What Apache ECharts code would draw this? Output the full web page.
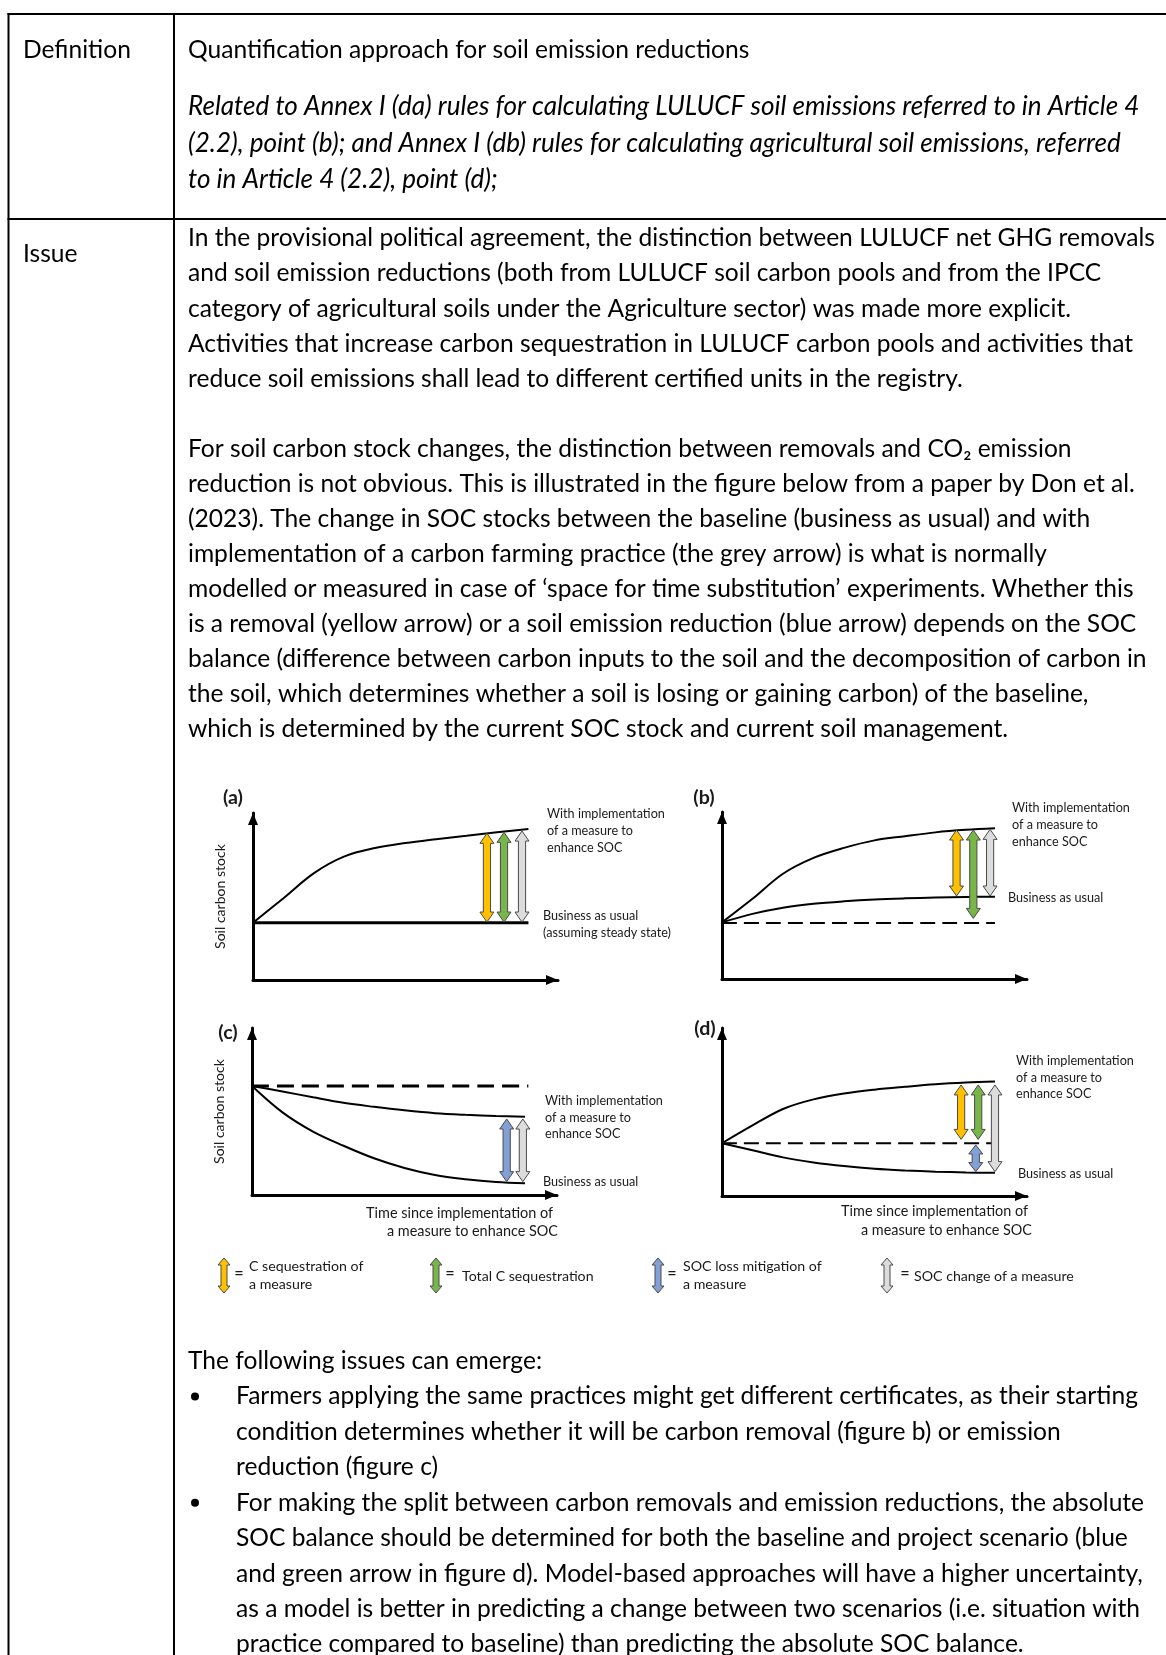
<!DOCTYPE html>
<html><head><meta charset="utf-8">
<script src="https://cdn.jsdelivr.net/npm/echarts@6/dist/echarts.min.js"></script>
<style>html,body{margin:0;padding:0;background:#fff}#c{width:1166px;height:1655px}</style>
</head><body><div id="c"></div>
<script>
// ---------------- DATA ----------------
// Curves: [time, soil carbon stock] (arbitrary units)
const CURVE_A_MEASURE = [[0,3.43],[1,4.9],[2,6.4],[3,7.4],[4,7.9],[5,8.2],[6,8.43],[7,8.64],[8,8.85],[9.03,9.04]];
const CURVE_A_BAU     = [[0,3.43],[9.03,3.43]];
const CURVE_B_MEASURE = [[0,3.39],[1,4.8],[2,6.3],[3,7.25],[4,7.85],[5,8.3],[6,8.55],[7,8.78],[8,8.93],[8.95,9.02]];
const CURVE_B_BAU     = [[0,3.39],[1,3.9],[2,4.27],[3,4.5],[4,4.65],[5,4.76],[6,4.83],[7,4.88],[8,4.91],[8.95,4.93]];
const CURVE_B_START   = [[0,3.36],[8.95,3.36]];
const CURVE_C_MEASURE = [[0,6.53],[1,6.2],[2,5.85],[3,5.52],[4,5.28],[5,5.07],[6,4.9],[7,4.8],[8,4.73],[8.95,4.69]];
const CURVE_C_BAU     = [[0,6.53],[1,4.95],[2,3.8],[3,2.95],[4,2.2],[5,1.62],[6,1.2],[7,0.95],[8,0.78],[8.95,0.70]];
const CURVE_C_START   = [[0,6.53],[9.06,6.53]];
const CURVE_D_MEASURE = [[0,3.14],[1,4.2],[2,5.18],[3,5.75],[4,6.1],[5,6.33],[6,6.5],[7,6.65],[8,6.75],[8.95,6.81]];
const CURVE_D_BAU     = [[0,3.14],[1,2.72],[2,2.3],[3,2.0],[4,1.78],[5,1.62],[6,1.52],[7,1.45],[8,1.4],[8.95,1.38]];
const CURVE_D_START   = [[0,3.14],[8.95,3.14]];

// Double arrows: [time, low, high, kind]
const ARROW_KINDS  = ['C sequestration of a measure','Total C sequestration','SOC loss mitigation of a measure','SOC change of a measure'];
const ARROW_COLORS = ['#FFC000','#78B64A','#82A0D6','#DCDCDC'];
const ARROWS_A = [[7.67,3.47,8.78,0],[8.23,3.47,8.84,1],[8.82,3.47,8.92,3]];
const ARROWS_B = [[7.69,4.97,8.92,0],[8.24,3.63,8.92,1],[8.79,4.97,8.96,3]];
const ARROWS_C = [[8.35,0.80,4.55,2],[8.88,0.80,4.55,3]];
const ARROWS_D = [[7.84,3.37,6.61,0],[8.40,3.37,6.61,1],[8.32,1.45,3.04,2],[8.95,1.45,6.61,3]];

// Texts
const DEF_LABEL = 'Definition';
const DEF_TITLE = 'Quantification approach for soil emission reductions';
const DEF_ITALIC = [
 'Related to Annex I (da) rules for calculating LULUCF soil emissions referred to in Article 4',
 '(2.2), point (b); and Annex I (db) rules for calculating agricultural soil emissions, referred',
 'to in Article 4 (2.2), point (d);'];
const ISSUE_LABEL = 'Issue';
const ISSUE_P1 = [
 'In the provisional political agreement, the distinction between LULUCF net GHG removals',
 'and soil emission reductions (both from LULUCF soil carbon pools and from the IPCC',
 'category of agricultural soils under the Agriculture sector) was made more explicit.',
 'Activities that increase carbon sequestration in LULUCF carbon pools and activities that',
 'reduce soil emissions shall lead to different certified units in the registry.'];
const ISSUE_P2 = [
 'For soil carbon stock changes, the distinction between removals and CO\u2082 emission',
 'reduction is not obvious. This is illustrated in the figure below from a paper by Don et al.',
 '(2023). The change in SOC stocks between the baseline (business as usual) and with',
 'implementation of a carbon farming practice (the grey arrow) is what is normally',
 'modelled or measured in case of \u2018space for time substitution\u2019 experiments. Whether this',
 'is a removal (yellow arrow) or a soil emission reduction (blue arrow) depends on the SOC',
 'balance (difference between carbon inputs to the soil and the decomposition of carbon in',
 'the soil, which determines whether a soil is losing or gaining carbon) of the baseline,',
 'which is determined by the current SOC stock and current soil management.'];
const ISSUE_INTRO = 'The following issues can emerge:';
const BULLETS = [
 ['Farmers applying the same practices might get different certificates, as their starting',
  'condition determines whether it will be carbon removal (figure b) or emission',
  'reduction (figure c)'],
 ['For making the split between carbon removals and emission reductions, the absolute',
  'SOC balance should be determined for both the baseline and project scenario (blue',
  'and green arrow in figure d). Model-based approaches will have a higher uncertainty,',
  'as a model is better in predicting a change between two scenarios (i.e. situation with',
  'practice compared to baseline) than predicting the absolute SOC balance.']];
const PANEL_LABELS = ['(a)','(b)','(c)','(d)'];
const LBL_MEASURE = ['With implementation','of a measure to','enhance SOC'];
const LBL_BAU = 'Business as usual';
const LBL_STEADY = '(assuming steady state)';
const AXIS_TIME = ['Time since implementation of','a measure to enhance SOC'];
const AXIS_SOC = 'Soil carbon stock';
const LEGEND_TEXT = [['C sequestration of','a measure'],['Total C sequestration'],['SOC loss mitigation of','a measure'],['SOC change of a measure']];

// ---------------- LAYOUT ----------------
const FAM = "Lato, 'Noto Sans', 'DejaVu Sans', sans-serif";
const mctx = document.createElement('canvas').getContext('2d');
function fit(text, target, italic, bold) {
  mctx.font = (italic ? 'italic ' : '') + (bold ? 'bold ' : '') + '100px ' + FAM;
  return 100 * target / mctx.measureText(text).width;
}
const BODY_SIZE = fit(ISSUE_P1[0], 967);
const ITAL_SIZE = fit(DEF_ITALIC[0], 952, true);
const FIG_SIZE  = fit(LBL_MEASURE[0], 118);
const LEG_SIZE  = fit(LEGEND_TEXT[3][0], 160);
const TIME_SIZE = fit(AXIS_TIME[0], 187);
const SOC_SIZE  = fit(AXIS_SOC, 105);
const PNL_SIZE  = fit('(a)', 20, false, true);

function txt(x, y, text, size, o) {
  o = o || {};
  const al = o.align || 'left';
  return {type:'text', x:x, y:y, silent:true, z:10, style:{
    text:text, fontSize:size, fontFamily:FAM,
    fontStyle:o.italic ? 'italic' : 'normal', fontWeight:o.bold ? 'bold' : 'normal',
    fill:o.color || '#000', align:al, textAlign:al, verticalAlign:'middle', textVerticalAlign:'middle'}};
}
function hline(x1, y1, x2, y2, w) {
  return {type:'line', silent:true, z:5, shape:{x1:x1,y1:y1,x2:x2,y2:y2}, style:{stroke:'#000', lineWidth:w || 2}};
}
function arrowPts(cx, t, b, sw, hw, hl) {
  return [[cx,t],[cx+hw,t+hl],[cx+sw,t+hl],[cx+sw,b-hl],[cx+hw,b-hl],[cx,b],[cx-hw,b-hl],[cx-sw,b-hl],[cx-sw,t+hl],[cx-hw,t+hl]];
}

const DY = 1.5; // vertical optical offset for body text
const G = [];
// table rules
G.push(hline(7.5, 14, 1166, 14));
G.push(hline(7.5, 219, 1166, 219));
G.push(hline(8.5, 13, 8.5, 1655));
G.push(hline(174, 13, 174, 1655));
// definition row
G.push(txt(23, 50.5, DEF_LABEL, BODY_SIZE));
G.push(txt(188, 50.5, DEF_TITLE, BODY_SIZE));
DEF_ITALIC.forEach((l, i) => G.push(txt(188, 105.5 + DY + i * 36.4, l, ITAL_SIZE, {italic:true})));
// issue row
G.push(txt(23, 253 + DY, ISSUE_LABEL, BODY_SIZE));
ISSUE_P1.forEach((l, i) => G.push(txt(188, 236.4 + DY + i * 35.35, l, BODY_SIZE)));
ISSUE_P2.forEach((l, i) => G.push(txt(188, 447.4 + DY + i * 35.08, l, BODY_SIZE)));
G.push(txt(188, 1360 + DY, ISSUE_INTRO, BODY_SIZE));
let bl = 0;
BULLETS.forEach(b => {
  const y0 = 1395 + DY + bl * 35.43;
  G.push({type:'circle', silent:true, z:10, shape:{cx:195, cy:y0, r:4}, style:{fill:'#000'}});
  b.forEach((l, i) => G.push(txt(236, 1395 + DY + (bl + i) * 35.43, l, BODY_SIZE)));
  bl += b.length;
});
// figure texts
const FC = '#1a1a1a';
[[233,798],[704,798],[228,1033],[705,1029]].forEach((p, i) => G.push(txt(p[0], p[1], PANEL_LABELS[i], PNL_SIZE, {bold:true, align:'center', color:FC})));
[[547,814.3],[1012,808.3],[545,1101],[1016,1061]].forEach(p => LBL_MEASURE.forEach((l, i) => G.push(txt(p[0], p[1] + i * 16.7, l, FIG_SIZE, {color:FC}))));
G.push(txt(543, 916, LBL_BAU, FIG_SIZE, {color:FC}));
G.push(txt(543, 932.7, LBL_STEADY, FIG_SIZE, {color:FC}));
G.push(txt(1008, 898.3, LBL_BAU, FIG_SIZE, {color:FC}));
G.push(txt(543, 1181.7, LBL_BAU, FIG_SIZE, {color:FC}));
G.push(txt(1018, 1174.3, LBL_BAU, FIG_SIZE, {color:FC}));
G.push(txt(553, 1213.3, AXIS_TIME[0], TIME_SIZE, {align:'right', color:FC}));
G.push(txt(558, 1231.7, AXIS_TIME[1], TIME_SIZE, {align:'right', color:FC}));
G.push(txt(1028, 1211.7, AXIS_TIME[0], TIME_SIZE, {align:'right', color:FC}));
G.push(txt(1032, 1230, AXIS_TIME[1], TIME_SIZE, {align:'right', color:FC}));
// legend
const LEG_ARROW_X = [224, 436, 658, 887];
const LEG_EQ_X = [239, 450, 672, 905];
const LEG_TXT_X = [249, 462, 683, 914];
LEGEND_TEXT.forEach((lines, k) => {
  G.push({type:'polygon', silent:true, z:10, shape:{points:arrowPts(LEG_ARROW_X[k], 1258, 1293, 3, 6, 7)},
          style:{fill:ARROW_COLORS[k], stroke:'#4a4a4a', lineWidth:1}});
  G.push(txt(LEG_EQ_X[k], 1274, '=', LEG_SIZE * 1.15, {align:'center', color:FC}));
  if (lines.length === 1) G.push(txt(LEG_TXT_X[k], 1276, lines[0], LEG_SIZE, {color:FC}));
  else lines.forEach((l, i) => G.push(txt(LEG_TXT_X[k], 1266 + i * 18, l, LEG_SIZE, {color:FC})));
});

// ---------------- CHART ----------------
const GRIDS = [
  {left:253, top:813, width:305, height:167},
  {left:722, top:812, width:305, height:167},
  {left:252, top:1028, width:305, height:167},
  {left:722, top:1028, width:305, height:168}];
function axisLine() {
  return {show:true, onZero:false, lineStyle:{color:'#000', width:3}, symbol:['none','triangle'], symbolSize:[10,12], symbolOffset:[0,-6]};
}
const xAxes = GRIDS.map((g, i) => ({gridIndex:i, type:'value', min:0, max:10, axisLine:axisLine(),
  axisTick:{show:false}, axisLabel:{show:false}, splitLine:{show:false}}));
const yAxes = GRIDS.map((g, i) => ({gridIndex:i, type:'value', min:0, max:10, axisLine:axisLine(),
  axisTick:{show:false}, axisLabel:{show:false}, splitLine:{show:false},
  name:(i % 2 === 0) ? AXIS_SOC : '', nameLocation:'middle', nameGap:26,
  nameTextStyle:{fontSize:SOC_SIZE, fontFamily:FAM, color:FC}}));

function lineSeries(idx, data, width, dash) {
  return {type:'line', xAxisIndex:idx, yAxisIndex:idx, data:data, smooth:0.35, showSymbol:false, symbol:'none',
    silent:true, z:3, lineStyle:{color:'#000', width:width, type:dash || 'solid', cap:'butt'}};
}
function renderArrow(params, api) {
  const x = api.value(0);
  const top = api.coord([x, api.value(2)]);
  const bot = api.coord([x, api.value(1)]);
  const len = bot[1] - top[1];
  const hl = Math.min(10, len * 0.34);
  return {type:'polygon', shape:{points:arrowPts(top[0], top[1], bot[1], 3.6, 7, hl)},
    style:{fill:ARROW_COLORS[api.value(3)], stroke:'#4a4a4a', lineWidth:1}};
}
function arrowSeries(idx, data) {
  return {type:'custom', xAxisIndex:idx, yAxisIndex:idx, data:data, renderItem:renderArrow, silent:true, z:4,
    encode:{x:0, y:[1,2]}};
}
const series = [
  lineSeries(0, CURVE_A_MEASURE, 2), lineSeries(0, CURVE_A_BAU, 3), arrowSeries(0, ARROWS_A),
  lineSeries(1, CURVE_B_MEASURE, 2), lineSeries(1, CURVE_B_BAU, 2), lineSeries(1, CURVE_B_START, 2, [15,7]), arrowSeries(1, ARROWS_B),
  lineSeries(2, CURVE_C_MEASURE, 2), lineSeries(2, CURVE_C_BAU, 2), lineSeries(2, CURVE_C_START, 3, [17,8]), arrowSeries(2, ARROWS_C),
  lineSeries(3, CURVE_D_MEASURE, 2), lineSeries(3, CURVE_D_BAU, 2), lineSeries(3, CURVE_D_START, 2, [15,7]), arrowSeries(3, ARROWS_D)
];

const chart = echarts.init(document.getElementById('c'), null, {renderer:'canvas', width:1166, height:1655});
chart.setOption({
  backgroundColor:'#fff', animation:false,
  grid:GRIDS, xAxis:xAxes, yAxis:yAxes, series:series, graphic:{elements:G}
});
</script></body></html>
